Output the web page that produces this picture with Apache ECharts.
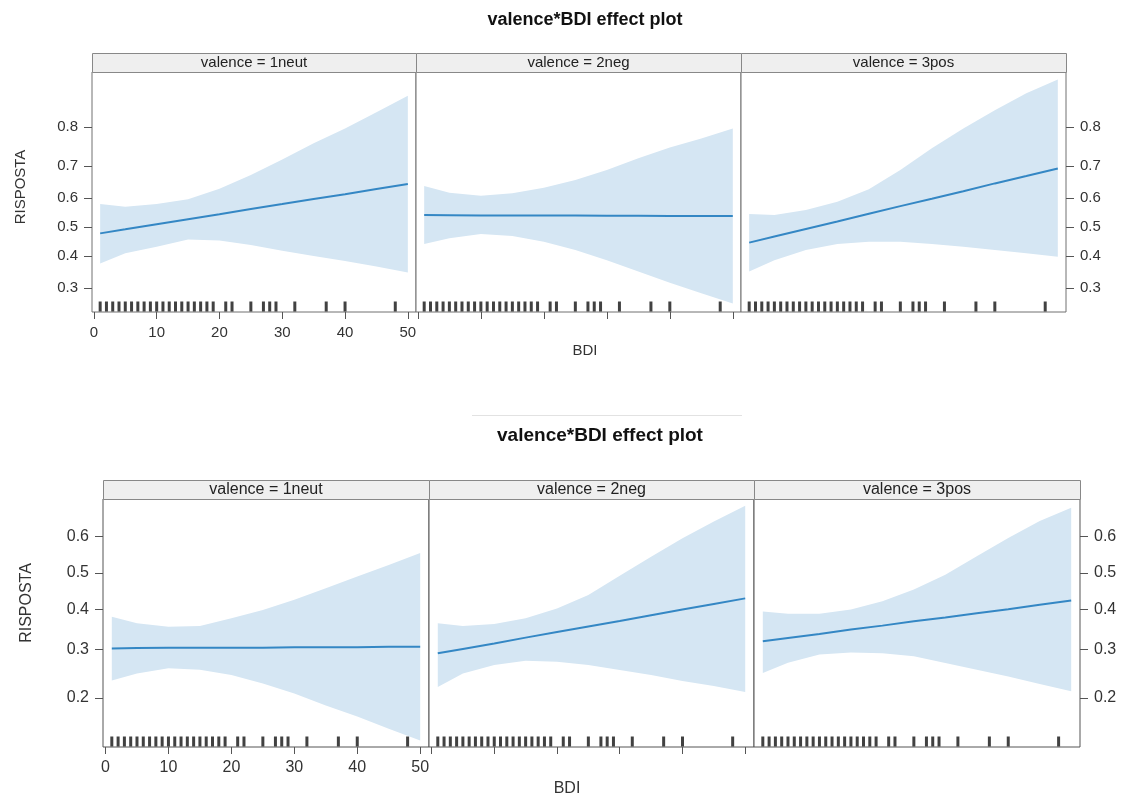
<!DOCTYPE html>
<html>
<head>
<meta charset="utf-8">
<script src="https://cdn.jsdelivr.net/npm/echarts@6/dist/echarts.min.js"></script>
<style>
html,body{margin:0;padding:0;background:#fff;}
#chart{width:1124px;height:797px;}
</style>
</head>
<body>
<div id="chart"></div>
<script>
// ---- data ----
const bdi = [1, 5, 10, 15, 20, 25, 30, 35, 40, 45, 50];
const rugBDI = [1,2,3,4,5,6,7,8,9,10,11,12,13,14,15,16,17,18,19,21,22,25,27,28,29,32,37,40,48];
const panelNames = ['valence = 1neut', 'valence = 2neg', 'valence = 3pos'];
const xTicks = [0, 10, 20, 30, 40, 50];
const yTicksTop = [0.3, 0.4, 0.5, 0.6, 0.7, 0.8];
const yTicksBottom = [0.2, 0.3, 0.4, 0.5, 0.6];

// top plot
const top1Fit = [0.478,0.492,0.510,0.527,0.544,0.562,0.579,0.596,0.612,0.629,0.645];
const top1Lo  = [0.376,0.410,0.432,0.457,0.453,0.438,0.418,0.401,0.384,0.366,0.347];
const top1Hi  = [0.579,0.570,0.579,0.595,0.630,0.673,0.719,0.762,0.797,0.831,0.861];
const top2Fit = [0.542,0.541,0.540,0.540,0.540,0.540,0.539,0.539,0.538,0.538,0.538];
const top2Lo  = [0.441,0.461,0.476,0.469,0.449,0.421,0.387,0.350,0.316,0.285,0.257];
const top2Hi  = [0.639,0.617,0.607,0.615,0.633,0.658,0.688,0.722,0.751,0.774,0.797];
const top3Fit = [0.446,0.467,0.493,0.519,0.546,0.572,0.597,0.622,0.647,0.670,0.693];
const top3Lo  = [0.350,0.387,0.421,0.441,0.449,0.449,0.441,0.432,0.421,0.410,0.398];
const top3Hi  = [0.545,0.542,0.559,0.587,0.628,0.688,0.749,0.797,0.835,0.865,0.886];
// bottom plot
const bot1Fit = [0.302,0.303,0.304,0.304,0.304,0.304,0.305,0.305,0.305,0.306,0.306];
const bot1Lo  = [0.233,0.247,0.258,0.255,0.244,0.227,0.208,0.187,0.169,0.151,0.135];
const bot1Hi  = [0.381,0.364,0.355,0.357,0.377,0.399,0.426,0.458,0.490,0.522,0.555];
const bot2Fit = [0.291,0.301,0.314,0.328,0.342,0.356,0.370,0.385,0.400,0.415,0.430];
const bot2Lo  = [0.220,0.247,0.265,0.274,0.272,0.265,0.254,0.244,0.232,0.222,0.211];
const bot2Hi  = [0.364,0.357,0.362,0.377,0.403,0.439,0.492,0.545,0.595,0.639,0.678];
const bot3Fit = [0.319,0.327,0.337,0.348,0.358,0.369,0.379,0.390,0.401,0.413,0.424];
const bot3Lo  = [0.248,0.270,0.288,0.293,0.291,0.284,0.269,0.255,0.241,0.226,0.212];
const bot3Hi  = [0.395,0.389,0.389,0.400,0.422,0.454,0.495,0.546,0.596,0.640,0.673];

// ---- layout ----
const FONT = '"Liberation Sans", Arial, sans-serif';
const logit = p => Math.log(p / (1 - p));
const invlogit = v => 1 / (1 + Math.exp(-v));

const plots = [
  { lefts: [92, 416, 741], widths: [324, 325, 325], top: 72, height: 240, strip: 19,
    xmin: -0.3, xmax: 51.3, ymin: -1.18, ymax: 2.153, yTicks: yTicksTop, fs: 15,
    fits: [top1Fit, top2Fit, top3Fit], los: [top1Lo, top2Lo, top3Lo], his: [top1Hi, top2Hi, top3Hi] },
  { lefts: [103, 429, 754], widths: [326, 325, 326], top: 499, height: 248, strip: 19,
    xmin: -0.4, xmax: 51.4, ymin: -1.93, ymax: 0.82, yTicks: yTicksBottom, fs: 16,
    fits: [bot1Fit, bot2Fit, bot3Fit], los: [bot1Lo, bot2Lo, bot3Lo], his: [bot1Hi, bot2Hi, bot3Hi] }
];

const grid = [], xAxis = [], yAxis = [], series = [], graphic = [];
let gi = 0;
plots.forEach((pl, pIdx) => {
  for (let k = 0; k < 3; k++) {
    grid.push({ left: pl.lefts[k], top: pl.top, width: pl.widths[k], height: pl.height,
      show: true, borderColor: pIdx === 0 ? '#707070' : '#555', borderWidth: 1, backgroundColor: '#fff' });
    xAxis.push({
      type: 'value', gridIndex: gi, min: pl.xmin, max: pl.xmax, position: 'bottom',
      axisLine: { show: false, onZero: false },
      splitLine: { show: false },
      axisTick: { show: k < 2, length: 7, inside: false, customValues: xTicks,
        lineStyle: { color: '#555' } },
      axisLabel: { show: k === 0, customValues: xTicks, margin: 13,
        fontSize: pl.fs, fontFamily: FONT, color: '#333' }
    });
    yAxis.push({
      type: 'value', gridIndex: gi, min: pl.ymin, max: pl.ymax,
      position: k === 2 ? 'right' : 'left',
      axisLine: { show: false, onZero: false },
      splitLine: { show: false },
      axisTick: { show: k !== 1, length: 8, customValues: pl.yTicks.map(logit),
        lineStyle: { color: '#555' } },
      axisLabel: { show: k !== 1, customValues: pl.yTicks.map(logit), margin: 14,
        fontSize: pl.fs, fontFamily: FONT, color: '#333',
        formatter: v => invlogit(v).toFixed(1) }
    });
    const fit = pl.fits[k], lo = pl.los[k], hi = pl.his[k];
    series.push({
      type: 'custom', xAxisIndex: gi, yAxisIndex: gi, z: 1, silent: true,
      data: bdi.map((x, i) => [x, logit(fit[i])]),
      renderItem: (params, api) => {
        if (params.dataIndex !== 0) return null;
        const pts = [];
        for (let i = 0; i < bdi.length; i++) pts.push(api.coord([bdi[i], logit(hi[i])]));
        for (let i = bdi.length - 1; i >= 0; i--) pts.push(api.coord([bdi[i], logit(lo[i])]));
        return { type: 'polygon', shape: { points: pts }, style: { fill: '#d5e6f3' } };
      }
    });
    series.push({
      type: 'line', xAxisIndex: gi, yAxisIndex: gi, z: 3, silent: true,
      showSymbol: false, data: bdi.map((x, i) => [x, logit(fit[i])]),
      lineStyle: { color: '#3487c4', width: 2 }
    });
    series.push({
      type: 'scatter', xAxisIndex: gi, yAxisIndex: gi, z: 4, silent: true, clip: false,
      symbol: 'rect', symbolSize: [3, 10], symbolOffset: [0, -5.5],
      data: rugBDI.map(v => [v, pl.ymin]),
      itemStyle: { color: '#111' }
    });
    // strip
    graphic.push({ type: 'rect', z: 10,
      shape: { x: pl.lefts[k] + 0.5, y: pl.top - pl.strip + 0.5, width: pl.widths[k], height: pl.strip },
      style: { fill: '#efefef', stroke: '#888', lineWidth: 1 } });
    graphic.push({ type: 'text', z: 11,
      x: pl.lefts[k] + pl.widths[k] / 2, y: pl.top - pl.strip / 2 + 0.5,
      style: { text: panelNames[k], font: pl.fs + 'px ' + FONT, fill: '#222',
        textAlign: 'center', textVerticalAlign: 'middle' } });
    gi++;
  }
});

// titles & axis names
graphic.push({ type: 'text', x: 585, y: 20, style: { text: 'valence*BDI effect plot',
  font: 'bold 18px ' + FONT, fill: '#111', textAlign: 'center', textVerticalAlign: 'middle' } });
graphic.push({ type: 'line', shape: { x1: 472, y1: 415.5, x2: 742, y2: 415.5 },
  style: { stroke: '#e2e2e2', lineWidth: 1 } });
graphic.push({ type: 'text', x: 600, y: 436, style: { text: 'valence*BDI effect plot',
  font: 'bold 19px ' + FONT, fill: '#111', textAlign: 'center', textVerticalAlign: 'middle' } });
graphic.push({ type: 'text', x: 21, y: 187, rotation: Math.PI / 2, style: { text: 'RISPOSTA',
  font: '15px ' + FONT, fill: '#333', textAlign: 'center', textVerticalAlign: 'middle' } });
graphic.push({ type: 'text', x: 27, y: 603, rotation: Math.PI / 2, style: { text: 'RISPOSTA',
  font: '16px ' + FONT, fill: '#333', textAlign: 'center', textVerticalAlign: 'middle' } });
graphic.push({ type: 'text', x: 585, y: 351, style: { text: 'BDI',
  font: '15px ' + FONT, fill: '#333', textAlign: 'center', textVerticalAlign: 'middle' } });
graphic.push({ type: 'text', x: 567, y: 789, style: { text: 'BDI',
  font: '16px ' + FONT, fill: '#333', textAlign: 'center', textVerticalAlign: 'middle' } });

const chart = echarts.init(document.getElementById('chart'), null, { renderer: 'canvas' });
chart.setOption({
  animation: false,
  backgroundColor: '#fff',
  grid, xAxis, yAxis, series, graphic
});
</script>
</body>
</html>
